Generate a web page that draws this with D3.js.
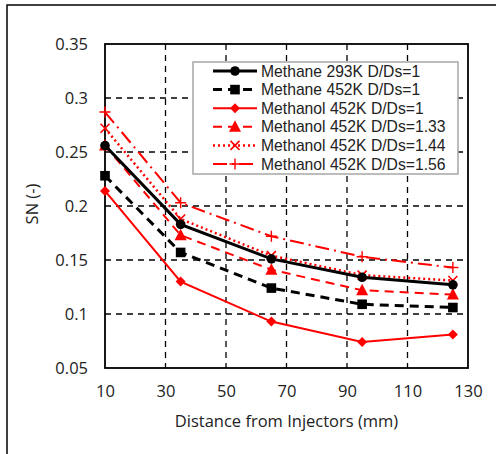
<!DOCTYPE html>
<html>
<head>
<meta charset="utf-8">
<script src="https://cdn.jsdelivr.net/npm/d3@7"></script>
<style>
  body { margin: 0; background: #fff; }
  svg text { font-family: "Open Sans", "Liberation Sans", sans-serif; fill: #222; }
</style>
</head>
<body>
<svg id="chart" width="496" height="454"></svg>
<script>
'use strict';

// Data
let distances = [10, 35, 65, 95, 125];
let seriesNames = [
  'Methane 293K D/Ds=1',
  'Methane 452K D/Ds=1',
  'Methanol 452K D/Ds=1',
  'Methanol 452K D/Ds=1.33',
  'Methanol 452K D/Ds=1.44',
  'Methanol 452K D/Ds=1.56'
];
let methane293 = [0.256, 0.183, 0.151, 0.134, 0.127];
let methane452 = [0.228, 0.157, 0.124, 0.109, 0.106];
let methanol100 = [0.214, 0.130, 0.093, 0.074, 0.081];
let methanol133 = [0.256, 0.173, 0.141, 0.122, 0.118];
let methanol144 = [0.272, 0.188, 0.154, 0.136, 0.131];
let methanol156 = [0.287, 0.203, 0.172, 0.153, 0.143];
let xTicks = [10, 30, 50, 70, 90, 110, 130];
let yTicks = [0.05, 0.1, 0.15, 0.2, 0.25, 0.3, 0.35];

// Styles per series
let styles = [
  {values: methane293, color: '#000', width: 3, dash: null, marker: 'circle'},
  {values: methane452, color: '#000', width: 3, dash: '9,6', marker: 'square'},
  {values: methanol100, color: '#ff0000', width: 2, dash: null, marker: 'diamond'},
  {values: methanol133, color: '#ff0000', width: 2, dash: '9,6', marker: 'triangle'},
  {values: methanol144, color: '#ff0000', width: 2.5, dash: '2,3', marker: 'x'},
  {values: methanol156, color: '#ff0000', width: 2, dash: '14,5,2,5', marker: 'plus'}
];

let margin = {left: 105, top: 44, right: 468, bottom: 368};
let fontSize = '16.5px';

let svg = d3.select('#chart');

// outer frame
svg.append('rect')
  .attr('x', 7).attr('y', 5)
  .attr('width', 520).attr('height', 470)
  .attr('fill', 'none').attr('stroke', '#000').attr('stroke-width', 1.5);

let xScale = d3.scaleLinear().domain([10, 130]).range([margin.left, margin.right]);
let yScale = d3.scaleLinear().domain([0.05, 0.35]).range([margin.bottom, margin.top]);

// Gridlines
let grid = svg.append('g')
  .attr('stroke', '#000').attr('stroke-width', 1.3).attr('stroke-dasharray', '6,5');
grid.selectAll('.vg')
  .data(xTicks.slice(1, -1))
  .enter().append('line')
  .attr('x1', d => xScale(d)).attr('x2', d => xScale(d))
  .attr('y1', margin.top).attr('y2', margin.bottom);
grid.selectAll('.hg')
  .data(yTicks.slice(1, -1))
  .enter().append('line')
  .attr('x1', margin.left).attr('x2', margin.right)
  .attr('y1', d => yScale(d)).attr('y2', d => yScale(d));

// Axes
let xAxis = d3.axisBottom(xScale).tickValues(xTicks).tickSize(0).tickPadding(17).tickFormat(d3.format('d'));
let yAxis = d3.axisLeft(yScale).tickValues(yTicks).tickSize(0).tickPadding(17).tickFormat(d => String(+d.toFixed(2)));

svg.append('g')
  .attr('transform', `translate(0,${margin.bottom})`)
  .call(xAxis)
  .call(g => g.select('.domain').remove())
  .selectAll('text').style('font-size', fontSize).style('font-family', '"Open Sans", sans-serif').attr('fill', '#222');

svg.append('g')
  .attr('transform', `translate(${margin.left},0)`)
  .call(yAxis)
  .call(g => g.select('.domain').remove())
  .selectAll('text').style('font-size', fontSize).style('font-family', '"Open Sans", sans-serif').attr('fill', '#222');

// plot box
svg.append('rect')
  .attr('x', margin.left).attr('y', margin.top)
  .attr('width', margin.right - margin.left).attr('height', margin.bottom - margin.top)
  .attr('fill', 'none').attr('stroke', '#000').attr('stroke-width', 1.8);

// Axis titles
svg.append('text')
  .attr('x', (margin.left + margin.right) / 2).attr('y', 427)
  .attr('text-anchor', 'middle').style('font-size', fontSize)
  .text('Distance from Injectors (mm)');
svg.append('text')
  .attr('transform', `translate(38,${(margin.top + margin.bottom) / 2 - 2}) rotate(-90)`)
  .attr('text-anchor', 'middle').style('font-size', fontSize)
  .text('SN (-)');

// Marker drawing
function drawMarker(g, type, color, x, y) {
  if (type === 'circle') {
    g.append('circle').attr('cx', x).attr('cy', y).attr('r', 4.8).attr('fill', color);
  } else if (type === 'square') {
    g.append('rect').attr('x', x - 4.8).attr('y', y - 4.8).attr('width', 9.6).attr('height', 9.6).attr('fill', color);
  } else if (type === 'diamond') {
    g.append('path').attr('d', `M${x},${y - 5}L${x + 5},${y}L${x},${y + 5}L${x - 5},${y}Z`).attr('fill', color);
  } else if (type === 'triangle') {
    g.append('path').attr('d', `M${x},${y - 6.5}L${x + 6},${y + 5}L${x - 6},${y + 5}Z`).attr('fill', color);
  } else if (type === 'x') {
    g.append('path').attr('d', `M${x - 4.5},${y - 4.5}L${x + 4.5},${y + 4.5}M${x + 4.5},${y - 4.5}L${x - 4.5},${y + 4.5}`)
      .attr('stroke', color).attr('stroke-width', 1.6).attr('fill', 'none');
  } else if (type === 'plus') {
    g.append('path').attr('d', `M${x - 5.5},${y}L${x + 5.5},${y}M${x},${y - 5.5}L${x},${y + 5.5}`)
      .attr('stroke', color).attr('stroke-width', 1.4).attr('fill', 'none');
  }
}

let line = d3.line()
  .x((d, i) => xScale(distances[i]))
  .y(d => yScale(d));

// draw series, back to front
let seriesG = svg.append('g');
styles.slice().reverse().forEach(s => {
  seriesG.append('path')
    .attr('d', line(s.values))
    .attr('fill', 'none')
    .attr('stroke', s.color)
    .attr('stroke-width', s.width)
    .attr('stroke-dasharray', s.dash);
  s.values.forEach((v, i) => drawMarker(seriesG, s.marker, s.color, xScale(distances[i]), yScale(v)));
});

// Legend
let legend = svg.append('g');
legend.append('rect')
  .attr('x', 193).attr('y', 62).attr('width', 265).attr('height', 112)
  .attr('fill', '#fff').attr('stroke', '#a6a6a6').attr('stroke-width', 1.5);

styles.forEach((s, i) => {
  let y = 71 + i * 18.6;
  legend.append('line')
    .attr('x1', 213).attr('x2', 257).attr('y1', y).attr('y2', y)
    .attr('stroke', s.color).attr('stroke-width', s.width)
    .attr('stroke-dasharray', s.dash);
  drawMarker(legend, s.marker, s.color, 235, y);
  legend.append('text')
    .attr('x', 261).attr('y', y + 5.5)
    .style('font-size', '15.7px')
    .style('font-family', '"Liberation Sans", Arial, sans-serif')
    .text(seriesNames[i]);
});
</script>
</body>
</html>
